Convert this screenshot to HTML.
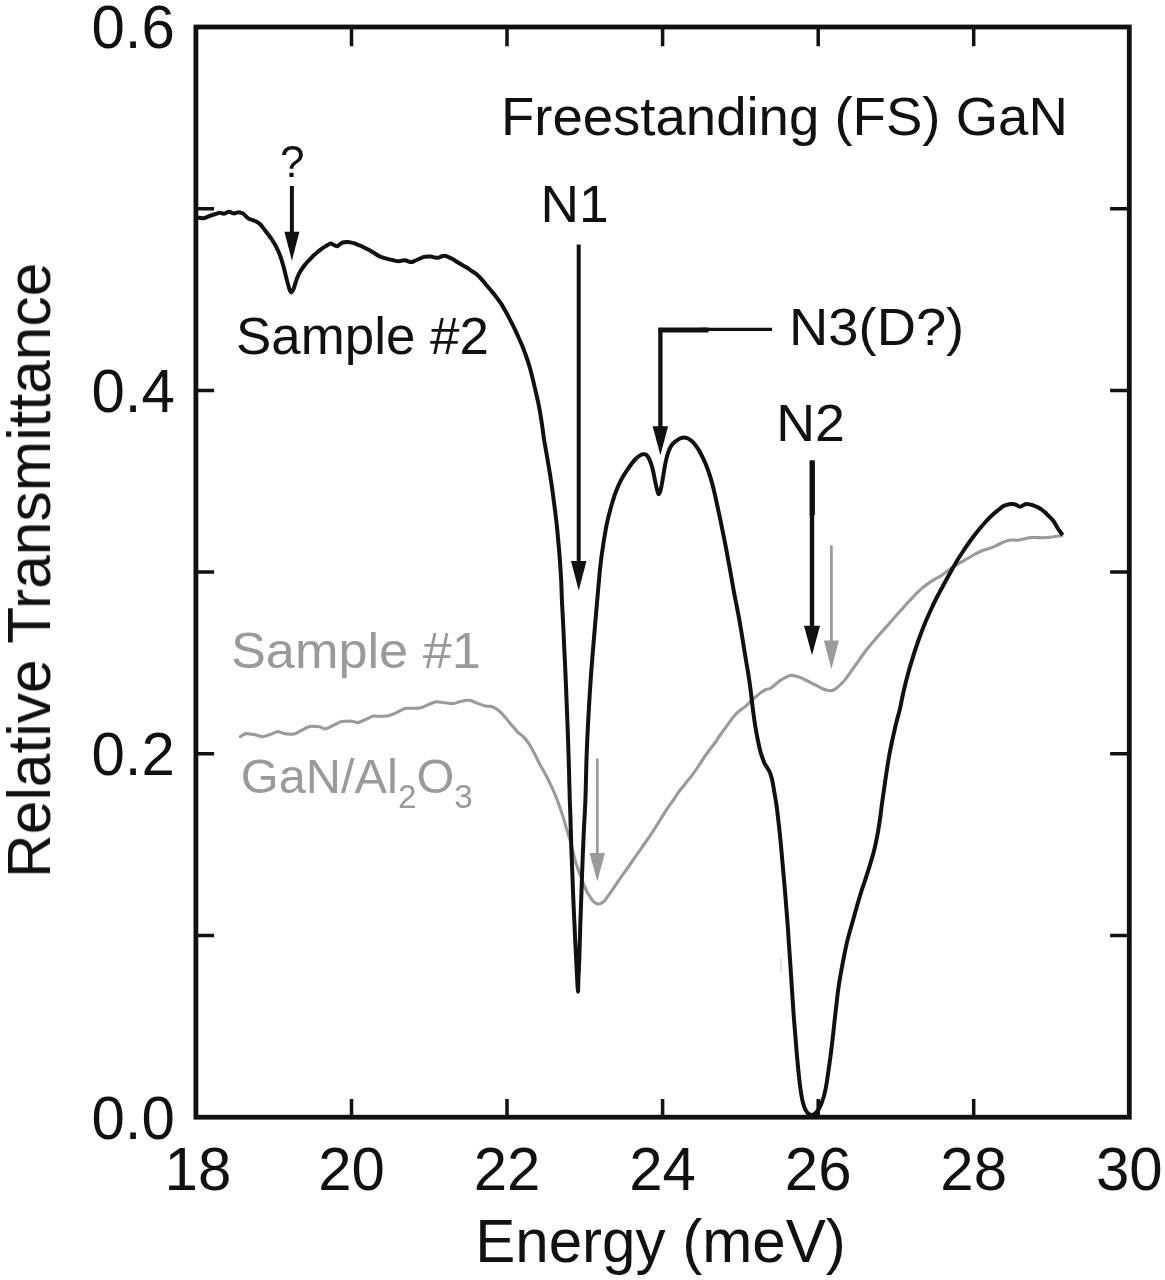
<!DOCTYPE html>
<html lang="en"><head><meta charset="utf-8"><title>Relative Transmittance vs Energy</title>
<style>html,body{margin:0;padding:0;background:#fff}body{width:1165px;height:1280px;overflow:hidden}</style></head>
<body>
<svg width="1165" height="1280" viewBox="0 0 1165 1280" style="display:block">
<rect width="1165" height="1280" fill="#fff"/>
<g font-family="'Liberation Sans', Arial, Helvetica, sans-serif" fill="#111" style="filter:blur(0.45px)">
<rect x="195.9" y="27.0" width="933.4" height="1090.2" fill="none" stroke="#111" stroke-width="4.8"/>
<path d="M351.5 27.0v19.2M351.5 1117.2v-18.2M507.0 27.0v19.2M507.0 1117.2v-18.2M662.6 27.0v19.2M662.6 1117.2v-18.2M818.2 27.0v19.2M818.2 1117.2v-18.2M973.7 27.0v19.2M973.7 1117.2v-18.2M195.9 935.5h18.2M1129.3 935.5h-19.2M195.9 753.8h18.2M1129.3 753.8h-19.2M195.9 572.1h18.2M1129.3 572.1h-19.2M195.9 390.4h18.2M1129.3 390.4h-19.2M195.9 208.7h18.2M1129.3 208.7h-19.2" stroke="#111" stroke-width="3.5" fill="none"/>
<g font-size="61.5">
<text transform="translate(197.9 1190.3) scale(0.975 1)" text-anchor="middle">18</text>
<text transform="translate(351.5 1190.3) scale(0.975 1)" text-anchor="middle">20</text>
<text transform="translate(507.0 1190.3) scale(0.975 1)" text-anchor="middle">22</text>
<text transform="translate(662.6 1190.3) scale(0.975 1)" text-anchor="middle">24</text>
<text transform="translate(818.2 1190.3) scale(0.975 1)" text-anchor="middle">26</text>
<text transform="translate(973.7 1190.3) scale(0.975 1)" text-anchor="middle">28</text>
<text transform="translate(1129.3 1190.3) scale(0.975 1)" text-anchor="middle">30</text>
<text transform="translate(174.8 1139.2) scale(0.975 1)" text-anchor="end">0.0</text>
<text transform="translate(174.8 775.1) scale(0.975 1)" text-anchor="end">0.2</text>
<text transform="translate(174.8 411.7) scale(0.975 1)" text-anchor="end">0.4</text>
<text transform="translate(174.8 48.3) scale(0.975 1)" text-anchor="end">0.6</text>
<text transform="translate(660.5 1262) scale(0.98 1)" text-anchor="middle" font-size="61.3">Energy (meV)</text>
<text transform="translate(50.0 570.3) rotate(-90)" text-anchor="middle" font-size="60.5">Relative Transmittance</text>
</g>
<path d="M240.3 736.7C240.8 736.4 242.0 735.3 243.0 734.8C244.0 734.3 245.0 733.7 246.3 733.6C247.6 733.5 249.4 734.0 251.0 734.2C252.6 734.4 254.4 734.6 255.8 734.9C257.2 735.2 258.1 735.6 259.2 735.9C260.3 736.2 261.3 736.8 262.6 736.7C263.9 736.6 265.6 735.9 267.0 735.5C268.4 735.1 269.9 734.6 271.2 734.1C272.5 733.6 273.5 733.0 274.7 732.6C275.9 732.2 277.0 731.5 278.1 731.5C279.2 731.5 280.4 732.4 281.5 732.7C282.6 733.1 283.6 733.4 284.9 733.6C286.2 733.8 287.8 733.9 289.2 734.0C290.6 734.1 292.1 734.4 293.5 734.1C294.9 733.8 296.4 733.0 297.8 732.3C299.2 731.6 300.7 730.8 302.1 730.1C303.5 729.4 304.7 728.6 306.0 728.0C307.3 727.4 308.4 726.7 309.8 726.4C311.2 726.1 312.9 726.3 314.5 726.4C316.1 726.5 318.0 726.4 319.3 726.7C320.6 727.0 321.3 727.6 322.3 728.0C323.3 728.4 324.2 729.0 325.3 728.9C326.4 728.8 327.9 728.0 329.2 727.4C330.5 726.8 331.6 726.2 333.0 725.5C334.4 724.8 335.9 724.0 337.3 723.3C338.7 722.6 340.0 721.9 341.6 721.5C343.2 721.1 345.0 721.2 346.7 721.2C348.4 721.2 350.5 721.1 351.9 721.2C353.3 721.3 353.9 721.8 354.9 722.0C355.9 722.2 356.8 722.7 357.9 722.6C359.0 722.5 360.4 721.7 361.7 721.2C363.0 720.7 364.3 720.1 365.6 719.5C366.9 718.9 368.2 718.2 369.5 717.6C370.8 717.0 372.0 716.3 373.3 716.1C374.6 715.9 375.9 716.2 377.2 716.2C378.5 716.2 379.8 716.4 381.1 716.4C382.4 716.4 383.7 716.2 385.0 716.1C386.3 716.0 387.5 716.0 388.8 715.7C390.1 715.4 391.4 714.8 392.7 714.3C394.0 713.8 395.1 713.3 396.5 712.6C397.9 711.9 399.4 711.0 400.8 710.3C402.2 709.6 403.7 708.7 405.1 708.4C406.5 708.1 407.7 708.3 409.0 708.3C410.3 708.3 411.5 708.3 412.8 708.3C414.1 708.3 415.4 708.3 416.7 708.2C418.0 708.1 419.3 708.1 420.6 707.8C421.9 707.5 423.1 706.9 424.4 706.4C425.7 705.9 426.9 705.3 428.2 704.7C429.5 704.1 431.0 703.5 432.4 703.0C433.8 702.5 435.1 701.9 436.5 701.8C437.9 701.7 439.2 702.1 440.6 702.2C442.0 702.4 443.3 702.5 444.7 702.7C446.1 702.9 447.4 703.1 448.8 703.3C450.2 703.4 451.6 703.7 453.0 703.6C454.4 703.5 455.7 703.0 457.1 702.6C458.5 702.2 459.8 701.6 461.2 701.3C462.6 700.9 464.0 700.7 465.4 700.5C466.8 700.3 468.1 700.1 469.5 700.3C470.9 700.5 472.2 701.2 473.6 701.7C475.0 702.2 476.3 702.9 477.7 703.4C479.1 703.9 480.4 704.4 481.8 704.9C483.2 705.4 484.8 705.9 485.9 706.1C487.0 706.3 487.8 706.2 488.7 706.3C489.6 706.4 490.4 706.2 491.4 706.5C492.4 706.8 493.6 707.4 494.8 708.0C496.0 708.6 497.3 709.4 498.3 710.2C499.3 711.0 500.1 711.8 501.0 712.7C501.9 713.6 502.8 714.5 503.8 715.7C504.8 716.9 506.1 718.4 507.2 719.8C508.3 721.2 509.5 722.6 510.7 724.0C511.9 725.4 513.0 726.7 514.1 728.0C515.2 729.3 516.5 730.9 517.5 731.9C518.5 732.9 519.4 733.5 520.3 734.2C521.2 735.0 522.1 735.5 523.0 736.4C523.9 737.3 524.9 738.5 525.8 739.6C526.7 740.7 527.6 741.8 528.5 743.2C529.4 744.6 530.4 746.2 531.3 747.8C532.2 749.4 533.1 751.1 534.0 752.8C534.9 754.5 535.9 756.4 536.8 758.2C537.7 760.0 538.6 762.1 539.5 763.8C540.4 765.5 541.4 767.0 542.3 768.6C543.2 770.2 544.1 771.7 545.0 773.4C545.9 775.1 546.9 777.0 547.8 778.8C548.7 780.6 549.6 782.4 550.5 784.4C551.4 786.4 552.4 788.4 553.3 790.5C554.2 792.6 555.1 794.5 556.0 796.8C556.9 799.1 557.9 801.7 558.8 804.2C559.7 806.7 560.7 809.5 561.5 811.9C562.3 814.3 562.9 816.3 563.6 818.6C564.3 820.9 565.0 823.5 565.6 825.6C566.2 827.7 566.7 829.2 567.3 831.0C567.9 832.8 568.3 834.2 569.0 836.6C569.7 839.0 570.5 841.8 571.5 845.5C572.5 849.2 573.6 855.1 574.7 859.0C575.8 862.9 576.9 865.8 578.0 869.0C579.1 872.2 580.3 875.4 581.5 878.5C582.7 881.6 583.8 884.8 585.0 887.5C586.2 890.2 587.3 892.5 588.5 894.5C589.7 896.5 590.9 898.4 592.0 899.8C593.1 901.2 594.0 902.1 595.0 902.8C596.0 903.5 597.0 903.8 598.0 903.9C599.0 904.0 599.9 903.9 601.0 903.3C602.1 902.7 603.6 901.7 604.8 900.5C606.0 899.3 606.8 897.6 608.0 896.0C609.2 894.4 610.5 892.6 611.9 890.6C613.3 888.6 614.9 886.1 616.5 883.8C618.1 881.5 619.2 879.8 621.3 876.8C623.4 873.8 626.4 869.8 629.0 866.0C631.6 862.2 634.5 858.0 637.2 854.2C639.9 850.4 642.4 846.7 645.0 843.0C647.6 839.3 650.2 835.5 652.6 831.8C655.0 828.1 657.2 824.7 659.5 821.0C661.8 817.3 664.1 813.3 666.4 809.8C668.7 806.3 671.2 803.2 673.4 800.0C675.6 796.8 677.5 793.6 679.6 790.8C681.7 788.0 683.7 785.6 685.8 783.0C687.9 780.4 690.1 777.9 692.2 775.1C694.3 772.3 696.5 769.0 698.5 766.0C700.5 763.0 702.4 759.9 704.3 757.1C706.2 754.4 708.0 751.9 709.8 749.5C711.6 747.1 713.6 744.8 715.3 742.5C717.0 740.2 718.2 737.8 719.8 735.5C721.4 733.2 723.1 731.0 724.8 728.7C726.5 726.4 728.3 723.8 730.0 721.5C731.7 719.2 733.4 716.9 735.1 715.0C736.8 713.1 738.6 711.7 740.3 710.3C742.0 708.9 743.7 707.9 745.4 706.4C747.1 704.9 748.8 703.1 750.5 701.5C752.2 699.9 754.0 698.4 755.7 696.9C757.5 695.4 759.3 693.7 761.0 692.5C762.7 691.3 764.5 690.2 766.0 689.5C767.5 688.8 768.5 689.3 770.0 688.5C771.5 687.7 773.3 686.1 775.0 684.8C776.7 683.5 778.5 681.8 780.2 680.6C781.9 679.4 783.6 678.5 785.3 677.6C787.0 676.8 788.6 675.8 790.3 675.5C792.0 675.2 793.8 675.6 795.5 676.0C797.2 676.4 798.8 676.9 800.5 677.6C802.2 678.3 803.8 679.2 805.5 680.0C807.2 680.8 808.9 681.7 810.6 682.6C812.3 683.5 814.0 684.3 815.7 685.2C817.4 686.1 819.2 687.0 820.8 687.8C822.4 688.6 824.0 689.3 825.5 689.8C827.0 690.3 828.6 690.8 829.9 690.8C831.2 690.8 832.3 690.5 833.5 690.0C834.7 689.5 835.8 688.7 837.0 687.7C838.2 686.7 839.6 685.4 841.0 684.0C842.4 682.6 843.6 681.5 845.1 679.6C846.6 677.7 848.5 675.0 850.2 672.6C851.9 670.2 853.6 667.8 855.3 665.4C857.0 663.0 858.6 660.7 860.3 658.3C862.0 655.9 863.7 653.4 865.4 651.2C867.1 649.0 868.8 647.0 870.5 645.0C872.2 643.0 873.6 641.3 875.6 639.0C877.6 636.7 880.1 633.7 882.5 631.0C884.9 628.3 887.6 625.4 890.0 622.7C892.4 620.0 894.4 617.5 896.6 615.0C898.8 612.5 900.9 610.4 903.0 608.0C905.1 605.6 907.3 603.1 909.5 600.8C911.7 598.5 913.9 596.1 916.0 594.0C918.1 591.9 920.2 589.7 922.4 587.9C924.6 586.1 926.9 584.5 929.0 583.0C931.1 581.5 933.2 580.1 935.3 578.9C937.4 577.6 939.4 576.9 941.5 575.5C943.6 574.1 945.9 572.1 948.1 570.5C950.3 568.9 952.4 567.4 954.5 566.0C956.6 564.6 958.7 563.5 961.0 562.2C963.3 560.9 965.9 559.5 968.5 558.0C971.1 556.5 973.9 554.6 976.5 553.3C979.1 552.0 981.4 551.0 984.0 550.0C986.6 549.0 989.6 548.4 992.0 547.5C994.4 546.6 996.4 545.5 998.5 544.5C1000.6 543.5 1002.7 542.2 1004.8 541.5C1006.9 540.8 1008.9 540.2 1011.0 540.0C1013.1 539.8 1015.5 540.4 1017.7 540.2C1019.9 540.0 1021.9 539.5 1024.0 539.0C1026.2 538.5 1028.4 537.7 1030.6 537.5C1032.8 537.3 1034.8 537.6 1037.0 537.6C1039.2 537.6 1041.0 537.8 1043.5 537.7C1046.0 537.6 1049.0 537.3 1052.0 537.0C1055.0 536.7 1060.1 535.9 1061.7 535.7" fill="none" stroke="#9a9a9a" stroke-width="3.1" stroke-linejoin="round" stroke-linecap="round"/>
<path d="M196.5 217.2C196.8 217.3 197.3 217.4 198.4 217.6C199.5 217.8 201.7 218.3 203.2 218.2C204.7 218.1 206.1 217.3 207.5 216.8C208.9 216.3 210.2 215.9 211.5 215.4C212.8 214.9 214.1 214.4 215.5 214.0C216.9 213.6 218.6 212.9 219.7 212.8C220.8 212.7 221.4 213.2 222.2 213.3C223.0 213.4 223.7 213.8 224.5 213.6C225.3 213.4 226.2 212.7 227.0 212.4C227.8 212.1 228.5 211.7 229.3 211.8C230.1 211.9 231.0 212.5 231.8 212.8C232.6 213.1 233.3 213.4 234.1 213.4C234.9 213.4 235.8 212.9 236.6 212.7C237.4 212.5 238.2 212.2 239.0 212.3C239.8 212.4 240.7 212.7 241.5 213.0C242.3 213.3 243.1 213.5 243.8 214.1C244.6 214.7 245.3 215.6 246.0 216.3C246.7 217.0 247.1 217.6 247.9 218.1C248.7 218.6 250.0 219.1 251.0 219.5C252.0 219.9 253.1 220.2 254.1 220.6C255.1 221.0 256.1 221.5 257.0 222.0C257.9 222.5 258.7 223.0 259.6 223.8C260.5 224.6 261.6 225.9 262.5 227.0C263.4 228.1 264.2 229.3 265.1 230.5C266.0 231.7 266.9 232.8 267.8 234.0C268.7 235.2 269.6 236.2 270.5 237.5C271.4 238.8 272.4 240.2 273.3 241.7C274.2 243.2 275.2 244.8 276.0 246.3C276.8 247.9 277.5 249.4 278.2 251.0C278.9 252.6 279.6 254.2 280.2 255.9C280.8 257.6 281.4 259.5 282.0 261.3C282.6 263.1 283.1 265.1 283.6 266.9C284.1 268.7 284.6 270.5 285.0 272.3C285.4 274.1 285.9 276.1 286.3 277.9C286.8 279.7 287.2 281.5 287.7 283.2C288.2 284.9 288.7 286.9 289.1 288.2C289.5 289.5 289.9 290.3 290.2 291.0C290.5 291.7 290.8 292.4 291.2 292.4C291.6 292.4 292.0 291.8 292.4 291.2C292.8 290.6 293.2 290.1 293.6 288.9C294.1 287.7 294.6 285.6 295.1 284.0C295.6 282.4 296.1 280.8 296.6 279.3C297.1 277.9 297.7 276.6 298.3 275.3C298.9 274.0 299.4 272.9 300.1 271.7C300.8 270.5 301.6 269.3 302.4 268.2C303.2 267.1 303.9 266.1 304.9 264.9C305.9 263.7 307.1 262.3 308.3 261.0C309.5 259.7 310.7 258.4 311.8 257.3C312.9 256.2 314.1 255.1 315.2 254.1C316.3 253.1 317.5 252.0 318.6 251.1C319.7 250.2 320.9 249.4 322.0 248.6C323.1 247.8 324.4 247.0 325.5 246.3C326.6 245.7 327.4 245.1 328.3 244.7C329.2 244.2 330.1 243.5 331.0 243.6C331.9 243.7 333.0 244.6 334.0 245.0C335.0 245.4 336.2 246.4 337.2 246.3C338.1 246.2 338.9 244.9 339.7 244.3C340.5 243.7 341.2 243.2 342.0 242.9C342.8 242.6 343.7 242.4 344.5 242.2C345.3 242.0 345.9 241.9 346.9 241.9C347.9 241.9 349.2 242.2 350.3 242.4C351.4 242.6 352.4 242.8 353.7 243.2C355.0 243.6 356.6 244.2 358.0 244.8C359.4 245.4 360.9 245.9 362.3 246.6C363.7 247.2 365.2 248.0 366.6 248.7C368.0 249.4 369.5 250.1 370.9 250.9C372.3 251.7 373.8 252.8 375.2 253.7C376.6 254.6 378.1 255.7 379.5 256.4C380.9 257.1 382.4 257.4 383.8 257.9C385.2 258.3 386.5 258.7 388.1 259.1C389.7 259.5 391.5 260.0 393.2 260.3C394.9 260.6 397.0 261.1 398.4 261.2C399.8 261.2 400.7 260.8 401.8 260.6C402.9 260.5 404.1 260.2 405.2 260.3C406.3 260.4 407.2 261.1 408.2 261.4C409.2 261.7 410.2 262.1 411.2 262.1C412.2 262.1 413.2 261.6 414.2 261.2C415.2 260.8 416.2 260.3 417.3 259.8C418.4 259.3 419.6 258.7 420.7 258.2C421.8 257.7 423.0 257.2 424.1 256.9C425.2 256.6 426.4 256.7 427.5 256.6C428.6 256.6 429.8 256.5 431.0 256.6C432.2 256.7 433.4 257.2 434.5 257.4C435.6 257.6 436.8 257.9 437.9 257.8C439.0 257.7 440.2 256.9 441.3 256.5C442.4 256.1 443.6 255.6 444.7 255.7C445.8 255.8 447.0 256.4 448.1 256.9C449.2 257.4 450.3 257.9 451.6 258.6C452.9 259.3 454.5 260.3 455.9 261.2C457.3 262.1 458.8 262.9 460.2 263.8C461.6 264.7 463.1 265.5 464.5 266.3C465.9 267.1 467.4 268.0 468.8 268.9C470.2 269.8 471.6 270.8 473.0 271.8C474.4 272.8 475.9 273.6 477.3 274.9C478.7 276.2 480.2 277.8 481.6 279.4C483.0 281.0 484.5 282.7 485.9 284.4C487.3 286.1 488.8 287.8 490.2 289.5C491.6 291.2 493.2 293.1 494.5 294.7C495.8 296.3 496.9 297.7 498.0 299.3C499.1 300.9 500.3 302.3 501.4 304.1C502.5 305.9 503.7 308.0 504.8 310.0C505.9 312.0 507.1 314.0 508.2 316.1C509.3 318.2 510.5 320.6 511.7 322.9C512.9 325.2 514.0 327.5 515.1 329.9C516.2 332.3 517.5 334.9 518.6 337.5C519.8 340.1 521.0 342.9 522.0 345.3C523.0 347.7 523.8 349.7 524.6 352.0C525.5 354.3 526.3 356.6 527.1 359.0C527.9 361.4 528.7 363.8 529.5 366.5C530.3 369.2 531.1 372.3 531.8 375.0C532.5 377.7 533.0 380.1 533.6 382.5C534.2 384.9 534.4 386.2 535.2 389.5C536.0 392.8 537.3 398.2 538.2 402.5C539.1 406.8 539.8 410.8 540.5 415.0C541.2 419.2 541.9 423.8 542.5 428.0C543.1 432.2 543.4 435.7 544.1 440.0C544.8 444.3 545.8 449.3 546.6 454.0C547.4 458.7 548.2 463.4 549.0 468.1C549.8 472.8 550.5 477.3 551.2 482.0C551.9 486.7 552.6 491.6 553.2 496.3C553.8 501.0 554.4 505.3 555.0 510.0C555.6 514.7 556.2 519.7 556.7 524.4C557.2 529.1 557.6 533.3 558.0 538.0C558.4 542.7 558.9 547.8 559.3 552.5C559.7 557.2 560.0 561.3 560.3 566.0C560.6 570.7 560.9 574.9 561.2 580.6C561.5 586.3 561.6 592.9 561.9 600.0C562.2 607.1 562.7 615.2 563.1 623.0C563.5 630.8 563.8 639.1 564.2 646.9C564.6 654.7 564.9 662.2 565.3 670.0C565.6 677.8 566.0 686.0 566.3 693.8C566.6 701.6 566.9 709.2 567.2 717.0C567.5 724.8 567.8 731.8 568.1 740.6C568.4 749.4 568.7 760.1 569.0 770.0C569.3 779.9 569.5 791.2 569.8 800.0C570.1 808.8 570.4 815.2 570.6 823.0C570.9 830.8 571.0 839.1 571.3 846.9C571.6 854.7 571.9 862.2 572.2 870.0C572.5 877.8 572.8 886.0 573.1 893.8C573.4 901.6 573.8 909.2 574.1 917.0C574.5 924.8 574.9 933.4 575.2 940.6C575.6 947.8 575.9 953.5 576.2 960.0C576.5 966.5 576.9 974.4 577.2 979.7C577.5 985.0 577.8 991.6 578.0 991.6C578.2 991.6 578.2 985.6 578.4 979.7C578.6 973.8 579.1 965.4 579.4 956.3C579.7 947.2 580.0 935.4 580.3 925.0C580.6 914.6 581.0 904.2 581.4 893.8C581.8 883.4 582.1 872.9 582.5 862.5C582.9 852.1 583.3 841.7 583.8 831.3C584.3 820.9 584.9 812.5 585.4 800.0C585.9 787.5 586.1 770.1 586.6 756.3C587.1 742.5 587.7 730.2 588.4 717.2C589.1 704.2 589.9 691.1 590.8 678.1C591.7 665.1 593.1 648.7 593.9 639.0C594.7 629.3 594.9 627.0 595.5 620.0C596.1 613.0 596.7 605.9 597.5 597.0C598.3 588.1 599.4 575.2 600.3 566.6C601.2 558.0 602.0 552.5 603.1 545.5C604.2 538.5 605.4 530.7 606.7 524.4C608.0 518.1 609.4 512.9 610.9 507.5C612.4 502.1 614.0 496.7 615.8 492.0C617.5 487.3 619.3 483.4 621.4 479.4C623.5 475.4 626.1 471.5 628.5 468.1C630.9 464.7 633.4 461.2 635.5 459.0C637.6 456.8 639.8 455.6 641.1 454.8C642.5 454.0 642.7 454.2 643.6 454.2C644.5 454.2 645.3 453.9 646.3 454.8C647.3 455.7 648.5 457.5 649.5 459.7C650.5 461.9 651.4 464.5 652.4 468.1C653.4 471.7 654.4 477.8 655.2 481.5C656.0 485.2 656.7 488.5 657.3 490.6C657.9 492.7 658.2 494.2 658.7 494.2C659.2 494.2 659.9 492.9 660.5 490.6C661.1 488.3 661.8 484.7 662.5 480.5C663.2 476.3 664.2 469.6 665.0 465.3C665.8 461.0 666.6 457.6 667.5 454.5C668.4 451.4 669.5 448.9 670.5 447.0C671.5 445.1 672.4 444.1 673.5 443.0C674.6 441.9 675.8 441.1 677.0 440.3C678.2 439.5 679.4 438.8 680.5 438.3C681.6 437.8 682.6 437.4 683.8 437.4C685.0 437.4 686.2 437.7 687.5 438.3C688.8 438.9 690.1 439.7 691.4 440.8C692.7 441.9 694.0 443.4 695.3 445.0C696.6 446.6 697.9 448.6 699.1 450.6C700.3 452.6 701.3 454.6 702.4 456.8C703.5 459.0 704.5 461.1 705.6 463.8C706.7 466.5 707.9 469.7 709.0 473.0C710.1 476.3 711.2 479.8 712.2 483.5C713.2 487.2 714.1 491.0 715.0 495.0C715.9 499.0 716.8 503.2 717.7 507.5C718.6 511.8 719.6 516.1 720.5 520.5C721.4 524.9 722.3 529.2 723.2 533.8C724.1 538.4 725.1 543.3 726.0 548.0C726.9 552.7 727.7 557.3 728.6 562.2C729.5 567.1 730.5 572.4 731.4 577.5C732.3 582.6 733.2 588.0 734.1 592.9C735.0 597.8 736.0 602.3 736.9 607.0C737.8 611.7 738.8 616.7 739.6 621.3C740.4 625.9 741.1 630.1 741.8 634.5C742.5 638.9 743.2 643.2 743.9 647.6C744.6 652.0 745.4 656.6 746.1 661.0C746.8 665.4 747.6 669.6 748.3 673.9C749.0 678.2 749.6 682.6 750.2 687.0C750.8 691.4 751.3 695.7 751.8 700.0C752.3 704.3 752.8 708.7 753.4 713.0C754.0 717.3 754.5 721.5 755.2 725.8C755.9 730.1 756.7 734.7 757.6 739.0C758.5 743.3 759.6 748.4 760.4 751.6C761.2 754.8 761.8 756.0 762.5 758.0C763.2 760.0 763.9 761.9 764.7 763.6C765.5 765.3 766.5 766.5 767.4 768.0C768.3 769.5 769.2 770.8 769.9 772.5C770.6 774.2 771.2 776.2 771.8 778.5C772.4 780.8 772.8 783.1 773.3 786.0C773.8 788.9 774.4 792.6 775.0 796.0C775.6 799.4 776.1 802.3 776.7 806.6C777.3 810.9 777.9 816.9 778.5 822.0C779.1 827.1 779.7 832.0 780.2 837.5C780.8 843.0 781.3 849.3 781.8 855.0C782.3 860.7 782.8 866.2 783.3 871.9C783.8 877.6 784.3 883.3 784.8 889.0C785.3 894.7 785.8 901.1 786.2 906.3C786.6 911.5 786.8 913.8 787.3 920.0C787.8 926.2 788.4 935.7 788.9 943.5C789.4 951.3 790.0 959.1 790.5 966.9C791.0 974.6 791.5 982.2 792.0 990.0C792.5 997.8 793.1 1006.5 793.6 1013.8C794.1 1021.1 794.7 1027.5 795.2 1034.0C795.7 1040.5 796.2 1047.0 796.7 1052.8C797.2 1058.6 797.7 1063.8 798.2 1069.0C798.7 1074.2 799.3 1079.8 799.8 1084.1C800.3 1088.3 800.8 1091.4 801.3 1094.5C801.8 1097.6 802.4 1100.5 803.0 1102.8C803.6 1105.1 804.1 1106.7 804.8 1108.3C805.4 1109.9 806.2 1111.2 806.9 1112.2C807.6 1113.2 808.4 1113.8 809.2 1114.3C810.0 1114.8 810.8 1115.0 811.6 1115.0C812.5 1115.0 813.4 1114.8 814.3 1114.2C815.2 1113.6 816.1 1112.7 817.0 1111.6C817.9 1110.5 818.7 1109.3 819.5 1107.8C820.3 1106.3 821.0 1104.7 821.7 1102.8C822.4 1100.9 823.1 1098.8 823.8 1096.5C824.4 1094.2 825.0 1091.7 825.6 1088.8C826.2 1085.9 826.8 1082.4 827.3 1079.0C827.8 1075.6 828.3 1072.1 828.8 1068.4C829.3 1064.7 829.9 1060.9 830.4 1057.0C830.9 1053.1 831.4 1049.3 831.9 1045.0C832.4 1040.7 833.0 1035.7 833.5 1031.0C834.0 1026.3 834.5 1021.5 835.0 1016.9C835.5 1012.3 836.1 1007.9 836.6 1003.5C837.1 999.1 837.5 994.5 838.1 990.3C838.7 986.0 839.4 981.9 840.0 978.0C840.6 974.1 841.3 970.7 842.0 966.9C842.7 963.1 843.5 958.9 844.3 955.0C845.1 951.1 845.8 947.3 846.7 943.4C847.6 939.5 848.7 935.4 849.8 931.5C850.9 927.6 851.9 924.2 853.1 920.0C854.3 915.8 855.7 910.6 857.0 906.0C858.3 901.4 859.8 896.5 861.0 892.5C862.2 888.5 863.4 885.4 864.5 882.0C865.6 878.6 866.7 875.3 867.8 871.9C868.9 868.5 870.0 864.9 871.0 861.5C872.0 858.1 873.0 854.7 873.9 851.3C874.8 847.9 875.5 844.4 876.2 841.0C876.9 837.6 877.6 834.4 878.2 830.7C878.8 827.0 879.4 823.0 880.0 819.0C880.6 815.0 881.1 810.7 881.6 806.6C882.1 802.5 882.7 798.5 883.3 794.5C883.9 790.5 884.4 786.8 885.0 782.5C885.6 778.2 886.4 773.1 887.1 768.5C887.8 763.9 888.6 759.0 889.3 755.0C890.0 751.0 890.7 747.9 891.4 744.5C892.1 741.1 892.7 738.3 893.6 734.4C894.5 730.5 895.6 725.3 896.7 721.0C897.8 716.7 899.0 713.1 900.0 708.6C901.0 704.1 901.9 698.9 903.0 694.0C904.1 689.1 905.2 684.3 906.5 679.5C907.8 674.7 909.0 669.9 910.5 665.0C912.0 660.1 913.6 654.8 915.2 650.0C916.8 645.2 918.3 640.7 920.0 636.0C921.7 631.3 923.7 626.4 925.5 622.0C927.3 617.6 929.1 613.7 931.0 609.5C932.9 605.3 935.0 601.0 937.0 597.0C939.0 593.0 941.1 589.4 943.2 585.5C945.3 581.6 947.6 577.4 949.8 573.5C952.0 569.6 954.0 565.8 956.3 562.0C958.5 558.2 960.9 554.6 963.3 551.0C965.7 547.4 968.1 543.8 970.5 540.5C972.9 537.2 975.4 534.0 977.8 531.0C980.2 528.0 982.6 525.2 985.0 522.5C987.4 519.8 990.0 517.1 992.3 515.0C994.5 512.9 996.6 511.3 998.5 509.8C1000.4 508.3 1002.0 506.9 1003.5 506.0C1005.0 505.1 1006.2 504.9 1007.5 504.6C1008.8 504.3 1009.9 504.2 1011.0 504.1C1012.1 504.0 1013.0 503.9 1014.0 504.1C1015.0 504.3 1016.0 504.9 1017.0 505.3C1018.0 505.7 1019.2 506.7 1020.2 506.7C1021.2 506.7 1022.2 505.7 1023.3 505.2C1024.3 504.7 1025.3 504.0 1026.5 503.9C1027.7 503.8 1029.2 504.3 1030.5 504.6C1031.8 504.9 1033.2 505.3 1034.5 505.8C1035.8 506.3 1036.8 506.8 1038.0 507.4C1039.2 508.0 1040.5 508.8 1041.7 509.6C1042.9 510.4 1044.0 511.3 1045.0 512.3C1046.0 513.2 1047.0 514.3 1048.0 515.3C1049.0 516.2 1049.8 517.0 1050.7 518.0C1051.6 519.0 1052.6 519.9 1053.4 521.0C1054.2 522.1 1055.0 523.4 1055.7 524.6C1056.5 525.9 1057.2 527.3 1057.9 528.5C1058.7 529.7 1059.4 530.7 1060.2 531.8C1061.0 532.9 1062.2 534.6 1062.6 535.2" fill="none" stroke="#111" stroke-width="4.0" stroke-linejoin="round" stroke-linecap="butt"/>
<line x1="291.9" y1="186.0" x2="291.9" y2="233.7" stroke="#111" stroke-width="4.0"/><polygon points="284.4,231.7 299.4,231.7 291.9,260.7" fill="#111"/>
<line x1="578.7" y1="244.5" x2="578.7" y2="563.0" stroke="#111" stroke-width="4.0"/><polygon points="571.0,561.0 586.5,561.0 578.7,590.5" fill="#111"/>
<line x1="812.0" y1="460.5" x2="812.0" y2="627.7" stroke="#111" stroke-width="4.4"/><polygon points="804.0,625.7 820.0,625.7 812.0,655.2" fill="#111"/>
<line x1="812.3" y1="460.5" x2="812.3" y2="515" stroke="#111" stroke-width="5.2"/>
<line x1="660.4" y1="330.0" x2="660.4" y2="428.2" stroke="#111" stroke-width="4.3"/><polygon points="652.6,426.2 668.1,426.2 660.4,455.2" fill="#111"/>
<line x1="658.2" y1="330" x2="708.5" y2="330" stroke="#111" stroke-width="4.8"/>
<line x1="700" y1="329.4" x2="772" y2="329.4" stroke="#111" stroke-width="3.4"/>
<line x1="597.3" y1="758.6" x2="597.3" y2="855.0" stroke="#9a9a9a" stroke-width="2.7"/><polygon points="589.5,853.0 605.0,853.0 597.3,881.5" fill="#9a9a9a"/>
<line x1="831.4" y1="545.4" x2="831.4" y2="642.5" stroke="#9a9a9a" stroke-width="2.7"/><polygon points="823.9,640.5 838.9,640.5 831.4,669.0" fill="#9a9a9a"/>
<line x1="781" y1="958" x2="781" y2="972" stroke="#d4d4d4" stroke-width="1.2"/>
<text transform="translate(500.9 135.0) scale(1.0200 1)" font-size="53.5">Freestanding (FS) GaN</text>
<text transform="translate(540.4 222.3) scale(1.0450 1)" font-size="51.0">N1</text>
<text transform="translate(789.1 345.0) scale(1.0656 1)" font-size="51.0">N3(D?)</text>
<text transform="translate(776.2 440.5) scale(1.0540 1)" font-size="51.0">N2</text>
<text transform="translate(236.1 354.3) scale(1.0367 1)" font-size="51.0">Sample #2</text>
<text x="292.3" y="177" text-anchor="middle" font-size="44">?</text>
<text transform="translate(231.0 667.6) scale(1.0350 1)" font-size="50.5" fill="#9a9a9a">Sample #1</text>
<text transform="translate(240.8 792.6) scale(0.9950 1)" font-size="49.0" fill="#9a9a9a">GaN/Al<tspan font-size="33.5" dy="15.2">2</tspan><tspan dy="-15.2">O</tspan><tspan font-size="33.5" dy="15.8">3</tspan></text>
</g></svg>
</body></html>
